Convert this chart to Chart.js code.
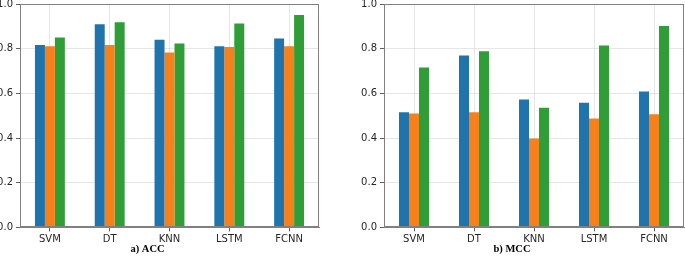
<!DOCTYPE html>
<html>
<head>
<meta charset="utf-8">
<script src="https://cdn.jsdelivr.net/npm/chart.js@4/dist/chart.umd.min.js"></script>
<style>
  html, body { margin: 0; padding: 0; background: #fff; }
  #wrap { position: relative; width: 685px; height: 258px; overflow: hidden; }
  .box { position: absolute; top: -5px; height: 263px; }
  #boxA { left: -24px; width: 344px; }
  #boxB { left: 340px; width: 345px; }
</style>
</head>
<body>
<div id="wrap">
  <div class="box" id="boxA"><canvas id="chartA"></canvas></div>
  <div class="box" id="boxB"><canvas id="chartB"></canvas></div>
</div>
<script>
const categories = ["SVM", "DT", "KNN", "LSTM", "FCNN"];
const yTicks = [0.0, 0.2, 0.4, 0.6, 0.8, 1.0];

const accBlue   = [0.816, 0.909, 0.840, 0.811, 0.846];
const accOrange = [0.811, 0.816, 0.783, 0.808, 0.811];
const accGreen  = [0.850, 0.918, 0.823, 0.913, 0.951];

const mccBlue   = [0.515, 0.769, 0.573, 0.558, 0.608];
const mccOrange = [0.510, 0.515, 0.398, 0.487, 0.507];
const mccGreen  = [0.716, 0.789, 0.536, 0.814, 0.901];

const titles = ["a) ACC", "b) MCC"];
const colors = ["#1f74ae", "#f8801a", "#2f9e36"];

const framePlugin = {
  id: 'frame',
  afterDraw(chart) {
    const a = chart.chartArea, c = chart.ctx;
    c.save();
    c.strokeStyle = '#808080';
    c.lineWidth = 1;
    c.strokeRect(Math.round(a.left) + 0.5, Math.round(a.top) + 0.5,
                 Math.round(a.right - a.left) - 1, Math.round(a.bottom - a.top) - 1);
    c.restore();
  }
};

function makeChart(id, title, series) {
  return new Chart(document.getElementById(id), {
    type: 'bar',
    data: {
      labels: categories,
      datasets: series.map((d, i) => ({
        data: d,
        backgroundColor: colors[i],
        borderWidth: 0,
        categoryPercentage: 0.5,
        barPercentage: 1.0
      }))
    },
    options: {
      responsive: true,
      maintainAspectRatio: false,
      animation: false,
      layout: { padding: { top: 4, right: 1, left: 0, bottom: 0 } },
      plugins: {
        legend: { display: false },
        tooltip: { enabled: false },
        title: {
          display: true,
          text: title,
          position: 'bottom',
          color: '#000',
          font: { family: '"Liberation Serif", "Times New Roman", serif', size: 10.5, weight: 'bold', lineHeight: 1.2 },
          padding: { top: 0, bottom: 2 }
        }
      },
      scales: {
        x: {
          z: 1,
          afterFit(s) { s.height = 16; },
          grid: { offset: false, color: 'rgba(200,200,200,0.45)', tickColor: '#606060', tickLength: 4, drawTicks: true },
          border: { color: '#808080' },
          ticks: { color: '#262626', padding: 2, font: { family: '"DejaVu Sans"', size: 10 } }
        },
        y: {
          z: 1,
          min: 0, max: 1,
          afterFit(s) { s.width = 44; },
          afterBuildTicks(s) { s.ticks = yTicks.map(v => ({ value: v })); },
          grid: { color: 'rgba(200,200,200,0.45)', tickColor: '#606060', tickLength: 4, drawTicks: true },
          border: { color: '#808080' },
          ticks: {
            color: '#262626', padding: 3,
            font: { family: '"DejaVu Sans"', size: 10 },
            callback: v => Number(v).toFixed(1)
          }
        }
      }
    },
    plugins: [framePlugin]
  });
}

makeChart('chartA', titles[0], [accBlue, accOrange, accGreen]);
makeChart('chartB', titles[1], [mccBlue, mccOrange, mccGreen]);
</script>
</body>
</html>
